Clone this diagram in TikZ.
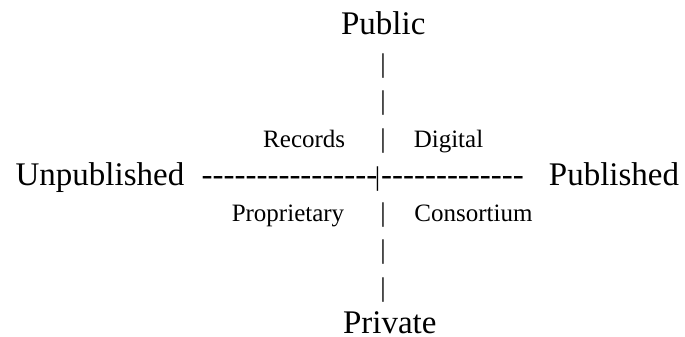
\documentclass[tikz,border=0pt]{standalone}
\usepackage{fontspec}
\setmainfont{Liberation Serif}
\usepackage{tikz}

\newcommand{\hy}{-\kern0pt}
\tikzset{
  big/.style={font=\fontsize{33}{36}\selectfont, inner sep=0pt, anchor=base},
  small/.style={font=\fontsize{25}{28}\selectfont, inner sep=0pt, anchor=base},
  bar/.style={font=\fontsize{27}{30}\selectfont, inner sep=0pt, anchor=base}
}

\begin{document}
\begin{tikzpicture}[x=1pt,y=1pt]
\useasboundingbox (0,0) rectangle (685,-337);
\node[big] (public) at (383.3,-35) {Public};
\node[bar] (bar1) at (383,-72) {|};
\node[bar] (bar2) at (383,-109) {|};
\node[small] (records) at (304.2,-147) {Records};
\node[bar] (bar3) at (383,-147) {|};
\node[small] (digital) at (448.5,-147) {Digital};
\node[big] (unpub) at (100,-185) {Unpublished};
\node[big] (dashl) at (289.5,-185) {\hy\hy\hy\hy\hy\hy\hy\hy\hy\hy\hy\hy\hy\hy\hy\hy};
\node[bar] (barmid) at (377.5,-185) {|};
\node[big] (dashr) at (452.5,-185) {\hy\hy\hy\hy\hy\hy\hy\hy\hy\hy\hy\hy\hy};
\node[big] (pub) at (614,-185) {Published};
\node[small] (propr) at (288,-221) {Proprietary};
\node[bar] (bar4) at (383,-221) {|};
\node[small] (consort) at (473.5,-221) {Consortium};
\node[bar] (bar5) at (383,-258) {|};
\node[bar] (bar6) at (383,-296) {|};
\node[big] (private) at (389.8,-333) {Private};
\end{tikzpicture}
\end{document}
